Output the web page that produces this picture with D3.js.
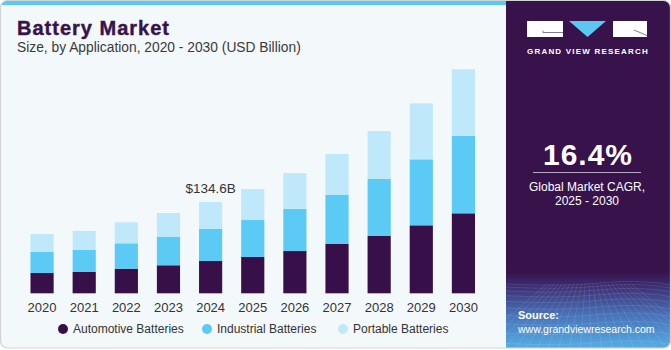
<!DOCTYPE html>
<html>
<head>
<meta charset="utf-8">
<script src="https://cdn.jsdelivr.net/npm/d3@7"></script>
<style>
  html, body { margin: 0; padding: 0; background: #ffffff; }
  svg { display: block; font-family: "Liberation Sans", Arial, sans-serif; }
</style>
</head>
<body>
<div id="chart"></div>
<script>
// Data (USD Billion)
var years = ["2020", "2021", "2022", "2023", "2024", "2025", "2026", "2027", "2028", "2029", "2030"];
var automotive = [29.9, 31.4, 36.3, 41.3, 47.6, 53.5, 62.3, 72.7, 84.9, 100.2, 117.9];
var industrial = [31.4, 32.9, 37.4, 42.2, 47.6, 54.5, 62.3, 72.2, 84.0, 97.3, 114.4];
var portable   = [26.1, 27.6, 31.0, 34.9, 39.4, 45.7, 52.6, 60.4, 70.3, 82.5, 97.9];
var seriesKeys = ["Automotive Batteries", "Industrial Batteries", "Portable Batteries"];
var seriesColors = ["#37104a", "#5bcbf6", "#bfe9fa"];
var calloutYear = "2024", calloutText = "$134.6B";

var W = 671, H = 350;

var svg = d3.select("#chart")
  .append("svg")
    .attr("width", W)
    .attr("height", H);

var defs = svg.append("defs");
defs.append("clipPath").attr("id", "card")
  .append("rect")
    .attr("x", 0.5).attr("y", 0.5)
    .attr("width", W - 1).attr("height", H - 2.5)
    .attr("rx", 7);

var grad = defs.append("linearGradient").attr("id", "panelFade")
    .attr("x1", 0).attr("y1", 0).attr("x2", 0).attr("y2", 1);
grad.append("stop").attr("offset", "0%").attr("stop-color", "#38124b");
grad.append("stop").attr("offset", "18%").attr("stop-color", "#3b2e72");
grad.append("stop").attr("offset", "55%").attr("stop-color", "#4872b8");
grad.append("stop").attr("offset", "100%").attr("stop-color", "#56b0e6");

var card = svg.append("g").attr("clip-path", "url(#card)");

// Background of the card
card.append("rect")
    .attr("x", 0).attr("y", 0).attr("width", W).attr("height", H)
    .attr("fill", "#f3f8fb");

// Blue strip on top of chart area
card.append("rect")
    .attr("x", 0).attr("y", 0).attr("width", 506).attr("height", 5)
    .attr("fill", "#5bc8f2");

// Right side panel
card.append("rect")
    .attr("x", 506).attr("y", 0).attr("width", W - 506).attr("height", H)
    .attr("fill", "#38124b");
card.append("rect")
    .attr("x", 506).attr("y", 272).attr("width", W - 506).attr("height", H - 272)
    .attr("fill", "url(#panelFade)");

// Wireframe texture at the panel bottom
var wire = card.append("g")
    .attr("stroke", "#ffffff")
    .attr("stroke-opacity", 0.15)
    .attr("stroke-width", 0.7)
    .attr("fill", "none");
var hy = 284, gap = 3;
while (hy < H) {
  wire.append("path")
    .attr("d", "M506," + hy + " Q560," + (hy + 3) + " 600," + (hy - 1) + " T671," + (hy + 1));
  hy += gap;
  gap += 0.9;
}
for (var vx = 470; vx < 720; vx += 11) {
  wire.append("line")
    .attr("x1", 588 + (vx - 588) * 0.35).attr("y1", 284)
    .attr("x2", vx).attr("y2", H);
}

// Card border
svg.append("rect")
    .attr("x", 0.5).attr("y", 0.5)
    .attr("width", W - 1).attr("height", H - 2.5)
    .attr("rx", 7)
    .attr("fill", "none")
    .attr("stroke", "#cfd3d6")
    .attr("stroke-width", 1.2);

// Title
svg.append("text")
    .attr("x", 17).attr("y", 35)
    .attr("font-size", 20).attr("font-weight", "bold")
    .attr("letter-spacing", 1)
    .attr("fill", "#38124b")
    .attr("stroke", "#38124b").attr("stroke-width", 0.4)
    .text("Battery Market");
svg.append("text")
    .attr("x", 17).attr("y", 52)
    .attr("font-size", 13.8)
    .attr("fill", "#3a3a3a")
    .text("Size, by Application, 2020 - 2030 (USD Billion)");

// Scales
var x = d3.scaleBand()
    .domain(years)
    .range([21, 484.5])
    .paddingInner(0.45)
    .paddingOuter(0.225);

var y = d3.scaleLinear()
    .domain([0, 340])
    .range([293.3, 293.3 - 340 * 0.6784]);

var rows = years.map(function (yr, i) {
  var r = { year: yr };
  r[seriesKeys[0]] = automotive[i];
  r[seriesKeys[1]] = industrial[i];
  r[seriesKeys[2]] = portable[i];
  return r;
});

var color = d3.scaleOrdinal().domain(seriesKeys).range(seriesColors);

var stacked = d3.stack().keys(seriesKeys)(rows);

svg.append("g")
  .selectAll("g")
  .data(stacked)
  .enter().append("g")
    .attr("fill", function (d) { return color(d.key); })
  .selectAll("rect")
  .data(function (d) { return d; })
  .enter().append("rect")
    .attr("x", function (d) { return x(d.data.year); })
    .attr("y", function (d) { return y(d[1]); })
    .attr("width", x.bandwidth())
    .attr("height", function (d) { return y(d[0]) - y(d[1]); });

// X axis
var xAxis = svg.append("g")
    .attr("transform", "translate(0," + y(0) + ")")
    .call(d3.axisBottom(x).tickSize(0).tickPadding(9));
xAxis.select(".domain").remove();
xAxis.selectAll("text")
    .attr("font-size", 13)
    .attr("font-family", "Liberation Sans, Arial, sans-serif")
    .attr("fill", "#333333");

// Callout over 2024
var calloutIdx = years.indexOf(calloutYear);
var calloutTotal = automotive[calloutIdx] + industrial[calloutIdx] + portable[calloutIdx];
svg.append("text")
    .attr("x", x(calloutYear) + x.bandwidth() / 2)
    .attr("y", y(calloutTotal) - 9)
    .attr("text-anchor", "middle")
    .attr("font-size", 13.5)
    .attr("fill", "#333333")
    .text(calloutText);

// Legend
var legendX = [63, 207, 343];
var legend = svg.append("g").selectAll("g")
  .data(seriesKeys)
  .enter().append("g")
    .attr("transform", function (d, i) { return "translate(" + legendX[i] + ",329)"; });
legend.append("circle")
    .attr("r", 5)
    .attr("fill", function (d) { return color(d); });
legend.append("text")
    .attr("x", 10)
    .attr("y", 4)
    .attr("font-size", 12)
    .attr("fill", "#333333")
    .text(function (d) { return d; });

// Logo
var logo = svg.append("g");
logo.append("rect").attr("x", 527).attr("y", 21).attr("width", 36).attr("height", 16).attr("fill", "#ffffff");
logo.append("path").attr("d", "M543,30.5 V32.5 H563").attr("stroke", "#7a6a86").attr("stroke-width", 0.9).attr("fill", "none");
logo.append("path").attr("d", "M569,21 L606,21 L587.5,37 Z").attr("fill", "#5bc8f2");
logo.append("rect").attr("x", 613).attr("y", 21).attr("width", 34).attr("height", 16).attr("fill", "#ffffff");
logo.append("path").attr("d", "M634,30 L647,35.5").attr("stroke", "#7a6a86").attr("stroke-width", 0.9);
logo.append("text")
    .attr("x", 527).attr("y", 54)
    .attr("font-size", 8).attr("font-weight", "bold")
    .attr("letter-spacing", 1.2)
    .attr("fill", "#ffffff")
    .text("GRAND VIEW RESEARCH");

// CAGR block
svg.append("text")
    .attr("x", 588).attr("y", 165)
    .attr("text-anchor", "middle")
    .attr("font-size", 30).attr("font-weight", "bold")
    .attr("letter-spacing", 1)
    .attr("fill", "#ffffff")
    .text("16.4%");
svg.append("line")
    .attr("x1", 533).attr("x2", 641)
    .attr("y1", 172.5).attr("y2", 172.5)
    .attr("stroke", "#ffffff").attr("stroke-width", 0.8).attr("stroke-opacity", 0.8);
svg.append("text")
    .attr("x", 587).attr("y", 191)
    .attr("text-anchor", "middle")
    .attr("font-size", 12)
    .attr("fill", "#ffffff")
    .text("Global Market CAGR,");
svg.append("text")
    .attr("x", 587).attr("y", 205)
    .attr("text-anchor", "middle")
    .attr("font-size", 12)
    .attr("fill", "#ffffff")
    .text("2025 - 2030");

// Source
svg.append("text")
    .attr("x", 518).attr("y", 319)
    .attr("font-size", 11).attr("font-weight", "bold")
    .attr("fill", "#ffffff")
    .text("Source:");
svg.append("text")
    .attr("x", 518).attr("y", 333)
    .attr("font-size", 10.5)
    .attr("fill", "#ffffff")
    .text("www.grandviewresearch.com");
</script>
</body>
</html>
